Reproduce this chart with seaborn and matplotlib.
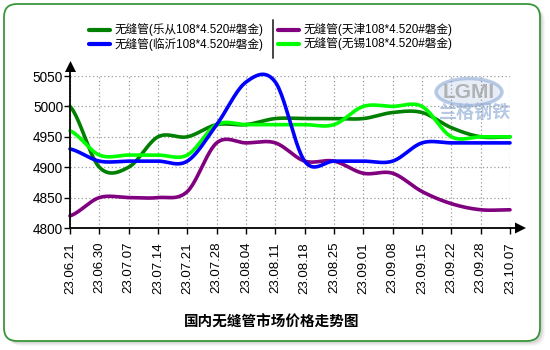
import numpy as np
import pandas as pd
import matplotlib
matplotlib.use("Agg")
import matplotlib.pyplot as plt
import matplotlib.transforms as mtransforms
from matplotlib.patches import FancyBboxPatch, Polygon, Ellipse
from matplotlib.lines import Line2D
import seaborn as sns

# ---- data -------------------------------------------------------------
dates = ["23.06.21", "23.06.30", "23.07.07", "23.07.14", "23.07.21", "23.07.28",
         "23.08.04", "23.08.11", "23.08.18", "23.08.25", "23.09.01", "23.09.08",
         "23.09.15", "23.09.22", "23.09.28", "23.10.07"]
lecong = [5000, 4900, 4900, 4950, 4950, 4970, 4970, 4980,
          4980, 4980, 4980, 4990, 4990, 4965, 4950, 4950]
linyi = [4930, 4910, 4910, 4910, 4910, 4970, 5040, 5040,
         4910, 4910, 4910, 4910, 4940, 4940, 4940, 4940]
tianjin = [4820, 4850, 4850, 4850, 4860, 4940, 4940, 4940,
           4910, 4910, 4890, 4890, 4860, 4840, 4830, 4830]
wuxi = [4960, 4920, 4920, 4920, 4920, 4970, 4970, 4970,
        4970, 4970, 5000, 5000, 5000, 4950, 4950, 4950]

names = ["无缝管(乐从108*4.520#磐金)", "无缝管(临沂108*4.520#磐金)",
         "无缝管(天津108*4.520#磐金)", "无缝管(无锡108*4.520#磐金)"]
series = [lecong, linyi, tianjin, wuxi]
colors = ["#008000", "#0000FF", "#800080", "#00FF00"]
yticks = [4800, 4850, 4900, 4950, 5000, 5050]
title = "国内无缝管市场价格走势图"


def catmull_rom(vals, n=24):
    """Sample a Catmull-Rom spline running through the weekly prices."""
    v = np.asarray(vals, float)
    p = np.concatenate([[v[0]], v, [v[-1]]])
    t = np.linspace(0, 1, n, endpoint=False)
    h00 = 2 * t**3 - 3 * t**2 + 1
    h10 = t**3 - 2 * t**2 + t
    h01 = -2 * t**3 + 3 * t**2
    h11 = t**3 - t**2
    xs, ys = [], []
    for i in range(len(v) - 1):
        p0, p1, p2, p3 = p[i:i + 4]
        m1, m2 = (p2 - p0) / 2, (p3 - p1) / 2
        xs.extend(i + t)
        ys.extend(h00 * p1 + h10 * m1 + h01 * p2 + h11 * m2)
    xs.append(len(v) - 1)
    ys.append(v[-1])
    return np.array(xs), np.array(ys)


frames = []
for name, vals in zip(names, series):
    x, y = catmull_rom(vals)
    frames.append(pd.DataFrame({"x": x, "price": y, "series": name}))
df = pd.concat(frames, ignore_index=True)

# ---- figure -------------------------------------------------------------
sns.set_theme(style="white")
plt.rcParams["font.family"] = ["Liberation Sans", "Noto Sans CJK SC", "DejaVu Sans"]

W, H = 550, 350
fig = plt.figure(figsize=(W / 100, H / 100), dpi=100, facecolor="white")
# pixel coordinates measured from the top-left corner
px = mtransforms.Affine2D().scale(1 / 100, -1 / 100).translate(0, H / 100) + fig.dpi_scale_trans

# framed panel with a soft shadow
for k, a in [(5, 0.06), (4, 0.08), (3, 0.10), (2, 0.12)]:
    fig.add_artist(FancyBboxPatch((4 + k, 4 + k), 536, 337,
                                  boxstyle="round,pad=0,rounding_size=13",
                                  transform=px, facecolor="#808080", edgecolor="none",
                                  alpha=a, zorder=-2))
fig.add_artist(FancyBboxPatch((4, 4), 536, 337, boxstyle="round,pad=0,rounding_size=13",
                              transform=px, facecolor="white", edgecolor="#3a963a",
                              linewidth=1.3, zorder=-1))

# watermark (behind the plot lines)
fig.add_artist(Ellipse((469, 92), 66, 27, transform=px, facecolor="#d6e2f2",
                       edgecolor="#8eaad6", lw=2.5, alpha=0.6, zorder=-0.5))
fig.text(469, 92, "LGMI", transform=px, fontsize=15, fontweight="bold", color="#a8a8a8",
         ha="center", va="center", alpha=0.85, zorder=-0.4)
fig.text(474, 113, "兰格钢铁", transform=px, fontsize=13, fontweight="bold", color="#9cb6dc",
         ha="center", va="center", alpha=0.75, family=["Noto Sans CJK SC"], zorder=-0.4)

left, right, top, bottom = 70, 510, 76, 228
ax = fig.add_axes([left / W, 1 - bottom / H, (right - left) / W, (bottom - top) / H])
ax.set_facecolor("none")
ax.set_zorder(1)

order = [0, 3, 2, 1]  # dark green at the back, blue in front
for rank, idx in enumerate(order):
    sub = df[df["series"] == names[idx]]
    sns.lineplot(data=sub, x="x", y="price", ax=ax, color=colors[idx],
                 linewidth=2.6, estimator=None, sort=False, legend=False,
                 zorder=3 + rank, clip_on=False)

ax.set_xlim(0, len(dates) - 1)
ax.set_ylim(yticks[0], yticks[-1])
ax.set_xticks(range(len(dates)))
ax.set_xticklabels(dates, rotation=90, fontsize=9.5, va="top", ha="center")
ax.set_yticks(yticks)
ax.set_yticklabels([str(v) for v in yticks], fontsize=9.8)
ax.set_xlabel("")
ax.set_ylabel("")
ax.grid(True, linestyle=(0, (1, 2)), color="#9a9a9a", linewidth=0.9)
for s in ["top", "right"]:
    ax.spines[s].set_visible(False)
for s in ["left", "bottom"]:
    ax.spines[s].set_color("black")
    ax.spines[s].set_linewidth(1.3)
    ax.spines[s].set_zorder(10)
ax.tick_params(axis="both", length=4, width=1, color="black", direction="out",
               left=True, bottom=True, colors="black")
ax.tick_params(axis="x", pad=6)
ax.tick_params(axis="y", pad=1)

# axis arrows
fig.add_artist(Line2D([left, left], [top, 70], transform=px, color="black", lw=1.3))
fig.add_artist(Polygon([(65, 72), (76, 72), (70.5, 61)], closed=True, transform=px,
                       facecolor="black", edgecolor="none"))
fig.add_artist(Line2D([right, 516], [bottom, bottom], transform=px, color="black", lw=1.3))
fig.add_artist(Polygon([(515, 222.5), (515, 233.5), (526, 228)], closed=True, transform=px,
                       facecolor="black", edgecolor="none"))

# legend in two columns
leg_pos = [(89, 30), (89, 44), (278, 30), (278, 44)]
for (lx, ly), name, col in zip(leg_pos, names, colors):
    fig.add_artist(Line2D([lx, lx + 21], [ly, ly], transform=px, color=col, lw=3))
    fig.text(lx + 26, ly, name, transform=px, fontsize=8.4, va="center", ha="left",
             color="black", family=["Liberation Sans", "Noto Sans CJK SC"])
fig.add_artist(Line2D([273, 273], [20, 58], transform=px, color="#444444", lw=1.4))

# chart title
fig.text(272, 322, title, transform=px, fontsize=10.5, fontweight="bold", color="black",
         ha="center", va="center", family=["Noto Sans CJK SC", "DejaVu Sans"])

fig.savefig("out.png", dpi=100, facecolor="white")
